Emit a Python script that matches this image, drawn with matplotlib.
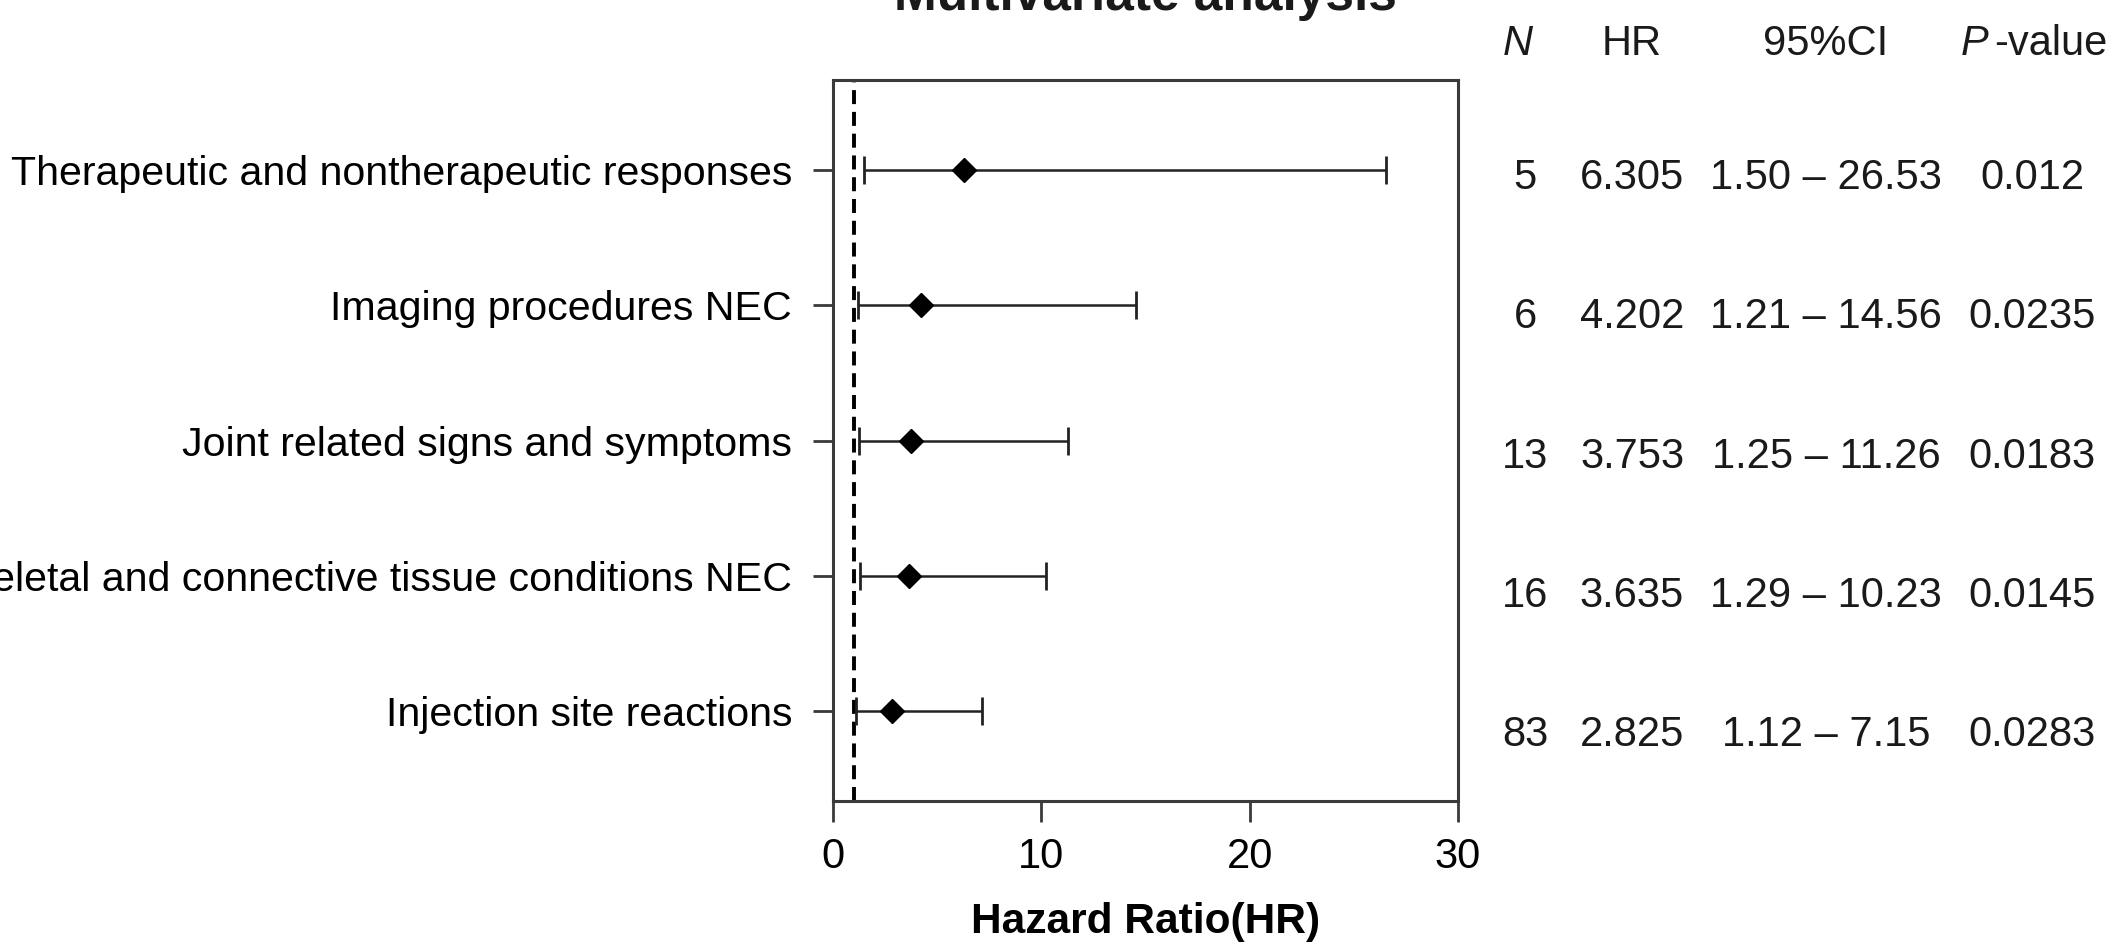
import matplotlib
matplotlib.use('Agg')
from matplotlib import pyplot as plt

plt.rcParams['font.family'] = ['Liberation Sans', 'DejaVu Sans']
plt.rcParams['text.color'] = '#1a1a1a'

labels = ['Therapeutic and nontherapeutic responses',
          'Imaging procedures NEC',
          'Joint related signs and symptoms',
          'Musculoskeletal and connective tissue conditions NEC',
          'Injection site reactions']
n_cases = [5, 6, 13, 16, 83]
hr = [6.305, 4.202, 3.753, 3.635, 2.825]
ci_low = [1.50, 1.21, 1.25, 1.29, 1.12]
ci_high = [26.53, 14.56, 11.26, 10.23, 7.15]
p_values = ['0.012', '0.0235', '0.0183', '0.0145', '0.0283']
x_ticks = [0, 10, 20, 30]
headers = ['N', 'HR', '95%CI']


W, H = 2114, 942
fig = plt.figure(figsize=(W / 100, H / 100), dpi=100)

# main forest plot
ax = fig.add_axes([833 / W, 141 / H, 625 / W, 721 / H])
rows = list(range(len(labels), 0, -1))
err = [[h - lo for h, lo in zip(hr, ci_low)],
       [hi - h for h, hi in zip(hr, ci_high)]]
ax.errorbar(hr, rows, xerr=err, fmt='D', color='black', ms=12.5,
            ecolor='#222222', elinewidth=1.8, capsize=10, capthick=2, zorder=3)
ax.axvline(1, color='black', lw=2.8, ls=(0, (3.6, 2.0)), zorder=2)

ax.set_xlim(0, 30)
ax.set_ylim(1 / 3, len(labels) + 2 / 3)
ax.set_xticks(x_ticks)
ax.set_yticks(rows)
ax.set_yticklabels(labels)
for s in ax.spines.values():
	s.set_linewidth(2.2)
	s.set_color('#3a3a3a')
ax.tick_params(axis='x', length=15, width=2, pad=11, labelsize=30, color='#3a3a3a')
ax.tick_params(axis='y', length=14.5, width=2, pad=15, labelsize=29.6, color='#3a3a3a')

ax.set_xlabel('Hazard Ratio(HR)', fontsize=30.5, fontweight='bold')
ax.xaxis.set_label_coords(0.5, -0.183)
ax.xaxis.label.set_va('baseline')

fig.text(1145 / W, 1 - 10 / H, 'Multivariate analysis', ha='center', va='baseline',
         fontsize=37, fontweight='bold')


# side table
tab = fig.add_axes([1458 / W, 141 / H, 656 / W, 721 / H])
tab.axis('off')
tab.set_xlim(1458, 2114)
tab.set_ylim(0.526, 5.704)
col_x = [1525, 1632, 1826, 2032]

head_y = 5.884
tab.text(1518, head_y, headers[0], ha='center', va='baseline', fontsize=30, style='italic')
tab.text(col_x[1], head_y, headers[1], ha='center', va='baseline', fontsize=30)
tab.text(col_x[2], head_y, headers[2], ha='center', va='baseline', fontsize=30)
tab.text(1988, head_y, 'P', ha='right', va='baseline', fontsize=30, style='italic')
tab.text(1994, head_y, '-value', ha='left', va='baseline', fontsize=30)

for i in range(len(labels)):
	y = rows[i]
	tab.text(col_x[0], y, str(n_cases[i]), ha='center', va='center', fontsize=30)
	tab.text(col_x[1], y, '%.3f' % hr[i], ha='center', va='center', fontsize=30)
	tab.text(col_x[2], y, '%.2f \u2013 %.2f' % (ci_low[i], ci_high[i]), ha='center', va='center', fontsize=30)
	tab.text(col_x[3], y, p_values[i], ha='center', va='center', fontsize=30)

fig.savefig('out.png', dpi=100)
